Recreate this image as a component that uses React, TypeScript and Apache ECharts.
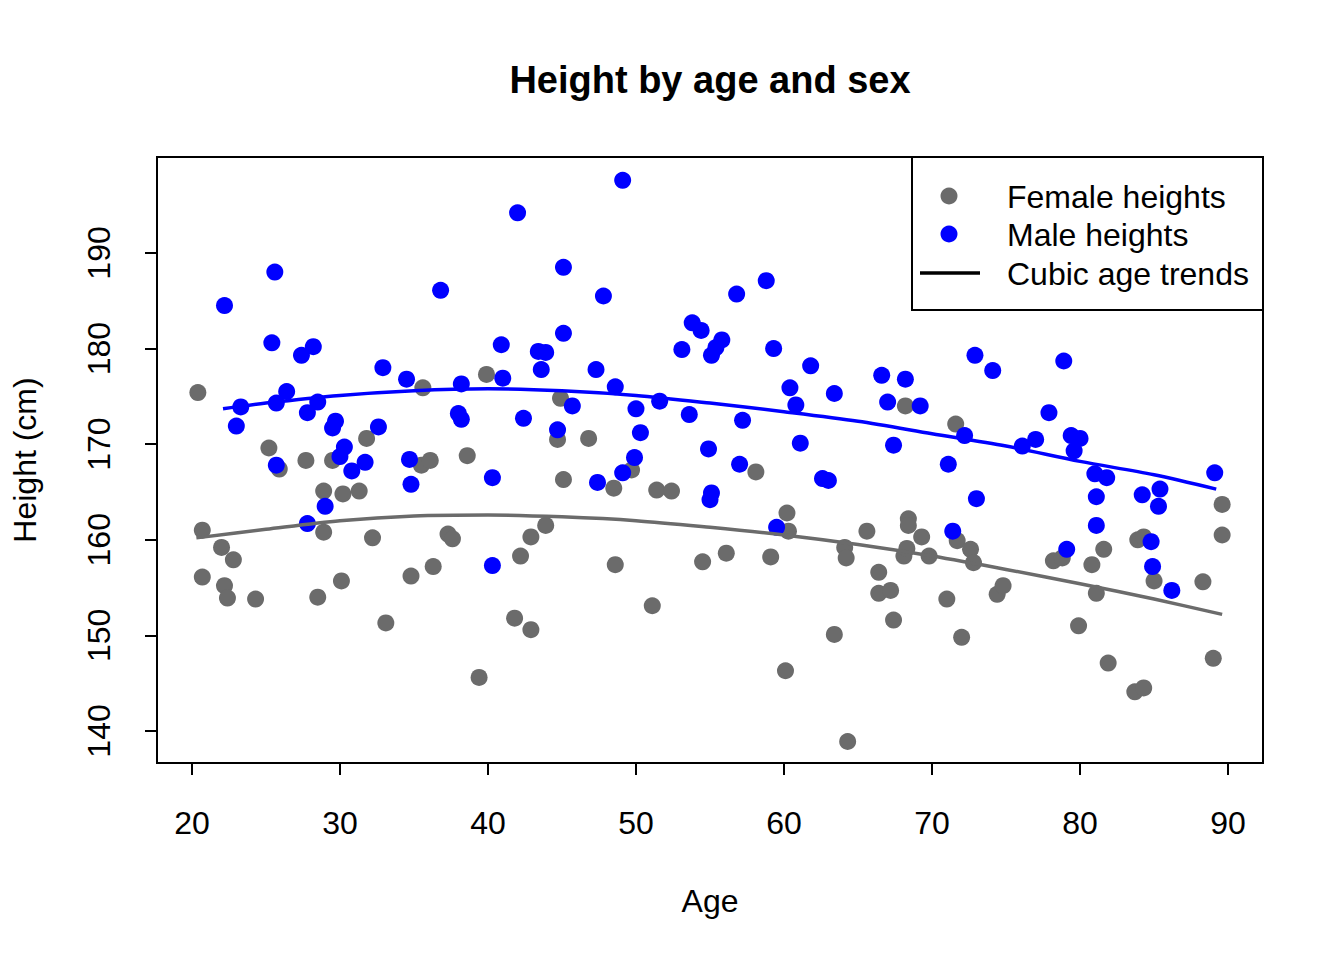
import React, { useEffect, useRef } from "react";
import * as echarts from "echarts";

const femaleAge = [20.4, 20.7, 20.7, 22.0, 22.2, 22.4, 22.8, 24.3, 25.2, 25.9, 27.7, 28.5, 28.9, 28.9, 29.5, 30.1, 30.2, 31.3, 31.8, 32.2, 33.1, 34.8, 35.5, 35.6, 36.1, 36.3, 37.3, 37.6, 38.6, 39.4, 39.9, 41.8, 42.2, 42.9, 42.9, 43.9, 44.7, 44.9, 45.1, 46.8, 48.5, 48.6, 49.7, 51.1, 51.4, 52.4, 54.5, 56.1, 58.1, 59.1, 60.1, 60.2, 60.3, 63.4, 64.1, 64.2, 64.3, 65.6, 66.4, 66.4, 67.2, 67.4, 68.1, 68.2, 68.3, 68.4, 68.4, 69.3, 69.8, 71.0, 71.6, 71.7, 72.0, 72.6, 72.8, 74.4, 74.8, 78.2, 78.8, 79.9, 80.8, 81.1, 81.6, 81.9, 83.7, 83.9, 84.3, 84.3, 85.0, 88.3, 89.0, 89.6, 89.6];
const femaleHeight = [175.4, 161.0, 156.1, 159.2, 155.2, 153.9, 157.9, 153.8, 169.6, 167.4, 168.3, 154.0, 165.1, 160.8, 168.3, 155.7, 164.8, 165.1, 170.6, 160.2, 151.3, 156.2, 167.8, 175.9, 168.3, 157.2, 160.6, 160.1, 168.8, 145.6, 177.3, 151.8, 158.3, 160.3, 150.6, 161.5, 170.5, 174.8, 166.3, 170.6, 165.4, 157.4, 167.3, 153.1, 165.2, 165.1, 157.7, 158.6, 167.1, 158.2, 146.3, 162.8, 160.9, 150.1, 159.2, 158.1, 138.9, 160.9, 156.6, 154.4, 154.7, 151.6, 158.3, 174.0, 159.1, 162.2, 161.5, 160.3, 158.3, 153.8, 172.1, 159.9, 149.8, 159.0, 157.6, 154.3, 155.2, 157.8, 158.1, 151.0, 157.4, 154.4, 159.0, 147.1, 144.1, 160.0, 160.3, 144.5, 155.7, 155.6, 147.6, 163.7, 160.5];

const maleAge = [22.2, 23.0, 23.3, 25.4, 25.6, 25.7, 25.7, 26.4, 27.4, 27.8, 27.8, 28.2, 28.5, 29.0, 29.5, 29.7, 30.0, 30.3, 30.8, 31.7, 32.6, 32.9, 34.5, 34.7, 34.8, 36.8, 38.0, 38.2, 38.2, 40.3, 40.3, 40.9, 41.0, 42.0, 42.4, 43.4, 43.6, 43.9, 44.7, 45.1, 45.1, 45.7, 47.3, 47.4, 47.8, 48.6, 49.1, 49.1, 49.9, 50.0, 50.3, 51.6, 53.1, 53.6, 53.8, 54.4, 54.9, 55.0, 55.1, 55.1, 55.4, 55.8, 56.8, 57.0, 57.2, 58.8, 59.3, 59.5, 60.4, 60.8, 61.1, 61.8, 62.6, 63.0, 63.4, 66.6, 67.0, 67.4, 68.2, 69.2, 71.1, 71.4, 72.2, 72.9, 73.0, 74.1, 76.1, 77.0, 77.9, 78.9, 79.1, 79.4, 79.6, 80.0, 81.0, 81.1, 81.1, 81.8, 84.2, 84.8, 84.9, 85.3, 85.4, 86.2, 89.1];
const maleHeight = [184.5, 171.9, 173.9, 180.6, 188.0, 174.3, 167.8, 175.5, 179.3, 173.3, 161.7, 180.2, 174.4, 163.5, 171.7, 172.4, 168.7, 169.7, 167.2, 168.1, 171.8, 178.0, 176.8, 168.4, 165.8, 186.1, 173.2, 172.6, 176.3, 166.5, 157.3, 180.4, 176.9, 194.2, 172.7, 179.7, 177.8, 179.6, 171.5, 188.5, 181.6, 174.0, 177.8, 166.0, 185.5, 176.0, 197.6, 167.0, 168.6, 173.7, 171.2, 174.5, 179.9, 173.1, 182.7, 181.9, 169.5, 164.2, 164.9, 179.3, 180.1, 180.9, 185.7, 167.9, 172.5, 187.1, 180.0, 161.3, 175.9, 174.1, 170.1, 178.2, 166.4, 166.2, 175.3, 177.2, 174.4, 169.9, 176.8, 174.0, 167.9, 160.9, 170.9, 179.3, 164.3, 177.7, 169.8, 170.5, 173.3, 178.7, 159.0, 170.9, 169.3, 170.6, 166.9, 164.5, 161.5, 166.5, 164.7, 159.8, 157.2, 163.5, 165.3, 154.7, 167.0];

const femaleTrendAge = [20.3, 25, 30, 35, 40, 45, 50, 55, 60, 65, 70, 75, 80, 85, 89.6];
const femaleTrendHeight = [160.2, 161.1, 162.0, 162.5, 162.6, 162.4, 162.0, 161.3, 160.5, 159.5, 158.3, 156.9, 155.4, 153.8, 152.2];
const maleTrendAge = [22.1, 25, 30, 35, 40, 45, 50, 55, 60, 65, 70, 75, 80, 85, 89.2];
const maleTrendHeight = [173.7, 174.3, 175.1, 175.6, 175.8, 175.6, 175.1, 174.3, 173.4, 172.4, 171.1, 169.8, 168.2, 166.8, 165.3];

const xTicks = [20, 30, 40, 50, 60, 70, 80, 90];
const yTicks = [140, 150, 160, 170, 180, 190];

const legendLabels = ["Female heights", "Male heights", "Cubic age trends"];

const GRAY = "#6B6B6B";
const BLUE = "#0000FF";
const FONT = "'Liberation Sans', Arial, Helvetica, sans-serif";

function zip(a: number[], b: number[]) {
  return a.map((v, i) => [v, b[i]]);
}

export default function App() {
  const ref = useRef<HTMLDivElement>(null);
  useEffect(() => {
    if (!ref.current) return;
    const chart = echarts.init(ref.current, null, { renderer: "svg" });
    const L = 157, T = 157, W = 1106, H = 606;
    chart.setOption({
      animation: false,
      backgroundColor: "#ffffff",
      textStyle: { fontFamily: FONT },
      grid: { left: L, top: T, width: W, height: H, show: true, borderColor: "#000", borderWidth: 2, backgroundColor: "transparent" },
      xAxis: {
        type: "value",
        min: 17.64,
        max: 92.36,
        name: "Age",
        nameLocation: "middle",
        nameGap: 122,
        nameTextStyle: { fontSize: 32, color: "#000", fontFamily: FONT },
        axisLine: { show: true, onZero: false, lineStyle: { color: "#000", width: 2 } },
        axisTick: { show: true, inside: false, length: 12, customValues: xTicks, lineStyle: { color: "#000", width: 2 } },
        axisLabel: { show: true, customValues: xTicks, margin: 44, fontSize: 32, color: "#000", fontFamily: FONT },
        splitLine: { show: false },
      },
      yAxis: {
        type: "value",
        min: 136.65,
        max: 200.04,
        name: "Height (cm)",
        nameLocation: "middle",
        nameGap: 116,
        nameRotate: 90,
        nameTextStyle: { fontSize: 32, color: "#000", fontFamily: FONT },
        axisLine: { show: true, onZero: false, lineStyle: { color: "#000", width: 2 } },
        axisTick: { show: true, inside: false, length: 12, customValues: yTicks, lineStyle: { color: "#000", width: 2 } },
        axisLabel: { show: true, customValues: yTicks, rotate: 90, margin: 42, fontSize: 32, color: "#000", fontFamily: FONT },
        splitLine: { show: false },
      },
      graphic: [
        {
          type: "text",
          x: 710,
          y: 80,
          style: { text: "Height by age and sex", fontSize: 38, fontWeight: "bold", fontFamily: FONT, fill: "#000", textAlign: "center", textVerticalAlign: "middle" },
        },
        {
          type: "group",
          z: 100,
          children: [
            { type: "rect", shape: { x: 912, y: 157, width: 351, height: 153 }, style: { fill: "#fff", stroke: "#000", lineWidth: 2 } },
            { type: "circle", shape: { cx: 949, cy: 196, r: 8.5 }, style: { fill: GRAY } },
            { type: "circle", shape: { cx: 949, cy: 234, r: 8.5 }, style: { fill: BLUE } },
            { type: "line", shape: { x1: 920, y1: 273, x2: 980, y2: 273 }, style: { stroke: "#000", lineWidth: 3.5 } },
            { type: "text", x: 1007, y: 197, style: { text: legendLabels[0], fontSize: 32, fontFamily: FONT, fill: "#000", textVerticalAlign: "middle" } },
            { type: "text", x: 1007, y: 235, style: { text: legendLabels[1], fontSize: 32, fontFamily: FONT, fill: "#000", textVerticalAlign: "middle" } },
            { type: "text", x: 1007, y: 274, style: { text: legendLabels[2], fontSize: 32, fontFamily: FONT, fill: "#000", textVerticalAlign: "middle" } },
          ],
        },
      ],
      series: [
        { name: "Female heights", type: "scatter", data: zip(femaleAge, femaleHeight), symbol: "circle", symbolSize: 17, itemStyle: { color: GRAY, opacity: 1 }, z: 2 },
        { name: "Male heights", type: "scatter", data: zip(maleAge, maleHeight), symbol: "circle", symbolSize: 17, itemStyle: { color: BLUE, opacity: 1 }, z: 2 },
        { name: "Female trend", type: "line", data: zip(femaleTrendAge, femaleTrendHeight), smooth: 0.3, showSymbol: false, symbol: "none", lineStyle: { color: GRAY, width: 3.5 }, z: 3 },
        { name: "Male trend", type: "line", data: zip(maleTrendAge, maleTrendHeight), smooth: 0.3, showSymbol: false, symbol: "none", lineStyle: { color: BLUE, width: 3.5 }, z: 3 },
      ],
    });
    return () => chart.dispose();
  }, []);
  return <div ref={ref} style={{ position: "fixed", left: 0, top: 0, width: 1344, height: 960, background: "#fff" }} />;
}
